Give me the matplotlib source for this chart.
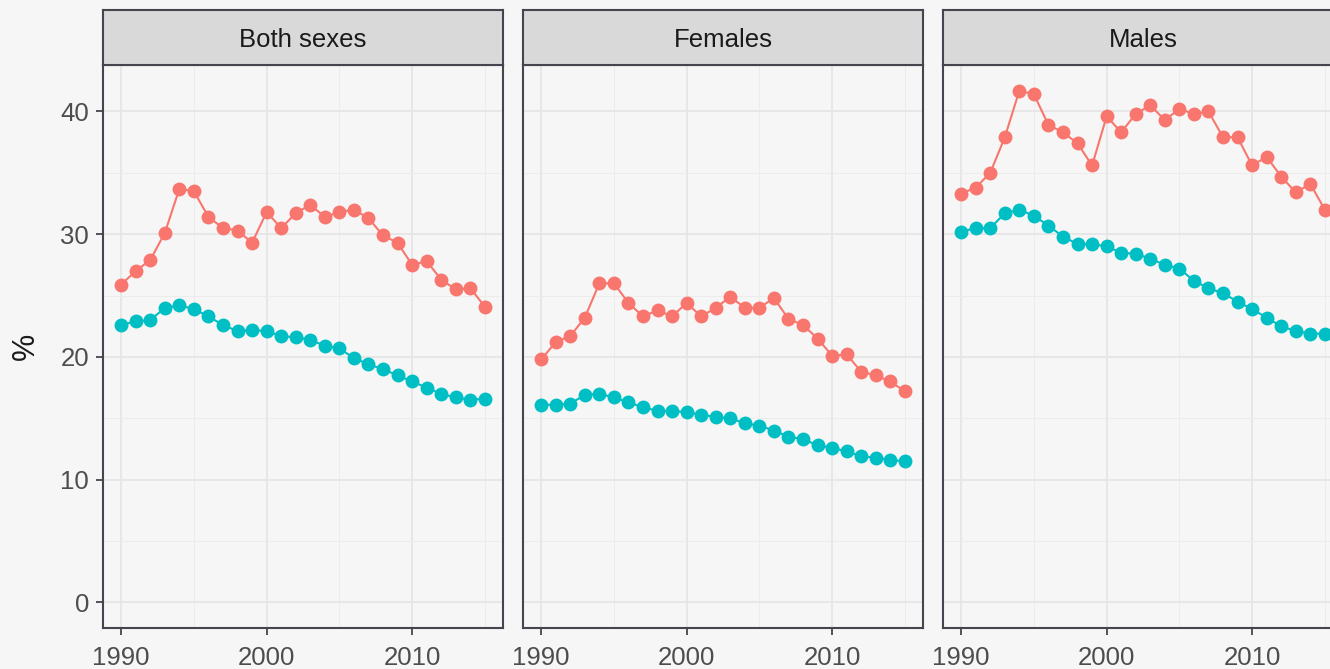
import matplotlib
matplotlib.use("Agg")
from matplotlib import pyplot as plt

plt.rcParams['font.family'] = ['Liberation Sans', 'DejaVu Sans']

years = list(range(1990, 2016))
panels = ['Both sexes', 'Females', 'Males']

# red series (first group)
red_both = [25.9, 27.0, 27.9, 30.1, 33.7, 33.5, 31.4, 30.5, 30.3, 29.3, 31.8, 30.5, 31.7,
            32.4, 31.4, 31.8, 32.0, 31.3, 29.9, 29.3, 27.5, 27.8, 26.3, 25.5, 25.6, 24.1]
red_fem = [19.8, 21.2, 21.7, 23.2, 26.0, 26.0, 24.4, 23.3, 23.8, 23.3, 24.4, 23.3, 24.0,
           24.9, 24.0, 24.0, 24.8, 23.1, 22.6, 21.5, 20.1, 20.2, 18.8, 18.5, 18.0, 17.2]
red_male = [33.3, 33.8, 35.0, 37.9, 41.7, 41.4, 38.9, 38.3, 37.4, 35.6, 39.6, 38.3, 39.8,
            40.5, 39.3, 40.2, 39.8, 40.0, 37.9, 37.9, 35.6, 36.3, 34.7, 33.4, 34.1, 32.0]

# teal series (second group)
teal_both = [22.6, 22.9, 23.0, 24.0, 24.2, 23.9, 23.3, 22.6, 22.1, 22.2, 22.1, 21.7, 21.6,
             21.4, 20.9, 20.7, 19.9, 19.4, 19.0, 18.5, 18.0, 17.5, 17.0, 16.7, 16.5, 16.6]
teal_fem = [16.1, 16.1, 16.2, 16.9, 17.0, 16.7, 16.3, 15.9, 15.6, 15.6, 15.5, 15.3, 15.1,
            15.0, 14.6, 14.4, 14.0, 13.5, 13.3, 12.8, 12.6, 12.3, 11.9, 11.8, 11.6, 11.5]
teal_male = [30.2, 30.5, 30.5, 31.7, 32.0, 31.5, 30.7, 29.8, 29.2, 29.2, 29.0, 28.5, 28.4,
             28.0, 27.5, 27.2, 26.2, 25.6, 25.2, 24.5, 23.9, 23.2, 22.5, 22.1, 21.9, 21.9]

red = [red_both, red_fem, red_male]
teal = [teal_both, teal_fem, teal_male]

W, H = 1330, 669
bg = '#f6f6f6'
border = '#45454f'
fig = plt.figure(figsize=(W / 100, H / 100), dpi=100, facecolor=bg)

# ggplot-like expansion
ymax = max(max(v) for v in red + teal)
ylo, yhi = 0 - 0.05 * ymax, ymax * 1.05
xpad = 0.05 * (years[-1] - years[0])

left0, pw, gap = 103, 400, 20
ptop, pbot = 65, 628
strip_top = 10

for i, name in enumerate(panels):
    x0 = left0 + i * (pw + gap)
    ax = fig.add_axes([x0 / W, 1 - pbot / H, pw / W, (pbot - ptop) / H])
    ax.set_facecolor(bg)
    ax.plot(years, red[i], color='#F8766D', linewidth=1.5, marker='o', markersize=10,
            markeredgewidth=0, zorder=3)
    ax.plot(years, teal[i], color='#00BFC4', linewidth=1.5, marker='o', markersize=10,
            markeredgewidth=0, zorder=3)
    ax.set_xlim(years[0] - xpad, years[-1] + xpad)
    ax.set_ylim(ylo, yhi)
    ax.set_xticks([1990, 2000, 2010])
    ax.set_xticks([1995, 2005, 2015], minor=True)
    ax.set_yticks([0, 10, 20, 30, 40])
    ax.set_yticks([5, 15, 25, 35], minor=True)
    ax.grid(True, which='major', color='#e6e6e6', linewidth=1.3, zorder=0)
    ax.grid(True, which='minor', color='#ececec', linewidth=0.7, zorder=0)
    ax.set_axisbelow(True)
    for s in ax.spines.values():
        s.set_color(border)
        s.set_linewidth(1.5)
    ax.tick_params(which='major', length=5, width=1.3, color=border, labelsize=18.5,
                   labelcolor='#4d4d4d', pad=5)
    ax.tick_params(axis='x', which='major', pad=8)
    ax.tick_params(which='minor', length=0)
    if i == 0:
        ax.set_ylabel('%', fontsize=22, color='#1a1a1a', labelpad=14)
    else:
        ax.tick_params(axis='y', which='major', length=0, labelleft=False)

    # facet strip
    sax = fig.add_axes([x0 / W, 1 - ptop / H, pw / W, (ptop - strip_top) / H])
    sax.set_facecolor('#d9d9d9')
    sax.set_xticks([])
    sax.set_yticks([])
    for s in sax.spines.values():
        s.set_color(border)
        s.set_linewidth(1.5)
    sax.text(0.5, 0.5, name, transform=sax.transAxes, ha='center', va='center_baseline',
             fontsize=18.5, color='#1a1a1a')

fig.savefig('out.png', dpi=100, facecolor=bg)
